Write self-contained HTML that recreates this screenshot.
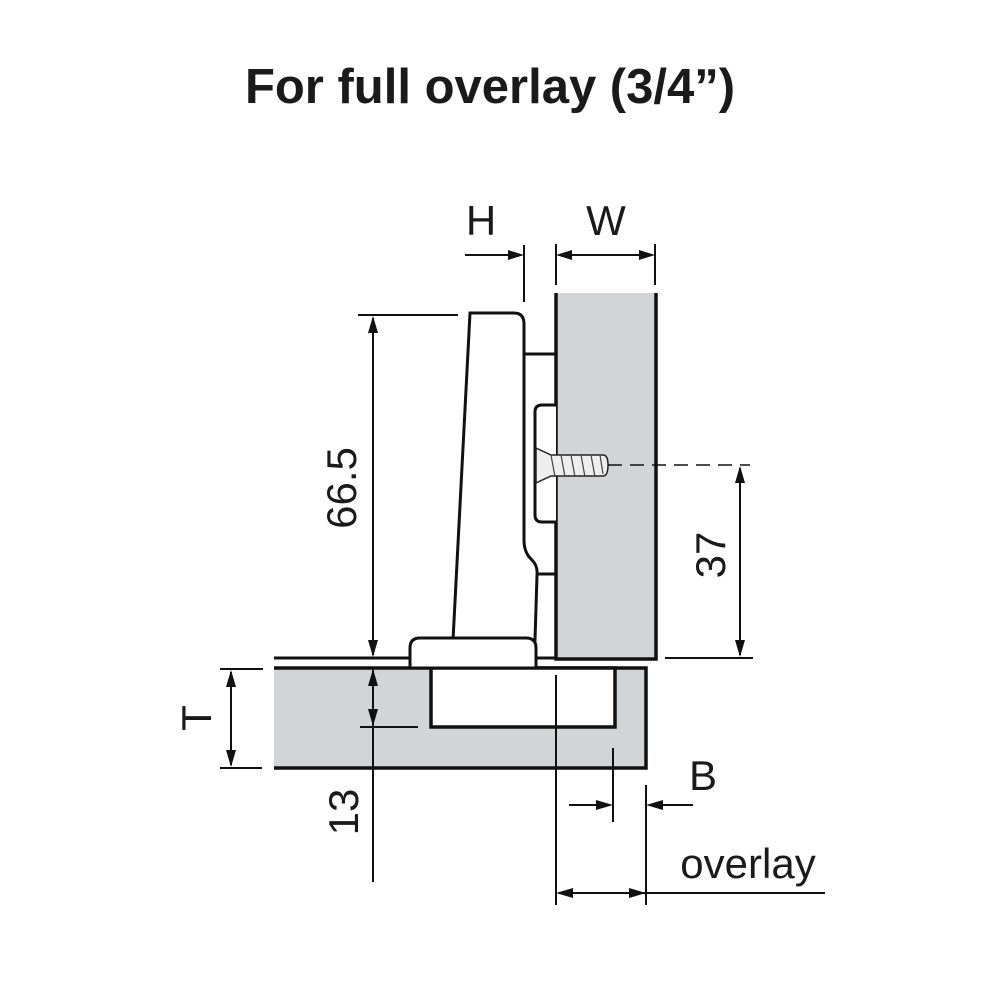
<!DOCTYPE html>
<html><head><meta charset="utf-8"><style>
html,body{margin:0;padding:0;background:#fff;}
svg{display:block;}
text{font-family:"Liberation Sans",Arial,sans-serif;fill:#1a1a1a;}
</style></head><body>
<svg width="1000" height="1000" viewBox="0 0 1000 1000" xmlns="http://www.w3.org/2000/svg">
<rect width="1000" height="1000" fill="#fff"/>
<text x="490" y="103" font-size="49" font-weight="bold" text-anchor="middle">For full overlay (3/4”)</text>

<!-- side panel -->
<rect x="556" y="293" width="100" height="366" fill="#d3d4d6"/>
<path d="M556,293 V659 H656 V293" fill="none" stroke="#111" stroke-width="3.5"/>

<!-- door -->
<rect x="274" y="668" width="372" height="100" fill="#d3d4d6"/>
<path d="M274,668 H646 V768 H274" fill="none" stroke="#111" stroke-width="3.5"/>
<rect x="431" y="668" width="184" height="59" fill="#fff" stroke="#111" stroke-width="3.5"/>
<line x1="274" y1="658" x2="412" y2="658" stroke="#111" stroke-width="3"/>
<line x1="536" y1="658" x2="556" y2="658" stroke="#111" stroke-width="3"/>

<!-- hinge arm -->
<path d="M470,313 H514 Q524,313 524,324 V540 Q524,553 532,560 Q538,566 537,575 L535,640 L453,640 Z" fill="#fff" stroke="#111" stroke-width="3"/>
<!-- base plate -->
<path d="M410,668 V648 Q410,638 420,638 H526 Q536,638 536,648 V668" fill="#fff" stroke="#111" stroke-width="3"/>
<line x1="408" y1="668" x2="538" y2="668" stroke="#111" stroke-width="3"/>
<!-- mounting plate -->
<line x1="524" y1="354" x2="556" y2="354" stroke="#111" stroke-width="3"/>
<line x1="538" y1="574" x2="556" y2="574" stroke="#111" stroke-width="3"/>
<path d="M556,405 H542 Q535,405 535,412 V515 Q535,522 542,522 H556" fill="#fff" stroke="#111" stroke-width="3"/>
<!-- screw -->
<path d="M536,448 L551,455 H603 Q608,455 608,465 Q608,476 603,476 H551 L536,483 Z" fill="#eee" stroke="#222" stroke-width="1.5"/>
<g stroke="#444" stroke-width="1.2">
<line x1="551" y1="455" x2="555" y2="477"/><line x1="561" y1="455" x2="565" y2="477"/><line x1="571" y1="455" x2="575" y2="477"/><line x1="581" y1="455" x2="585" y2="477"/><line x1="591" y1="455" x2="595" y2="477"/><line x1="600" y1="455" x2="603" y2="474"/>
</g>
<line x1="608" y1="465" x2="750" y2="465" stroke="#111" stroke-width="1.5" stroke-dasharray="14,8"/>

<g stroke="#111" stroke-width="2" fill="none">
<line x1="465" y1="255" x2="520" y2="255"/>
<line x1="524" y1="245" x2="524" y2="302"/>
<line x1="556" y1="244" x2="556" y2="285"/>
<line x1="655" y1="244" x2="655" y2="285"/>
<line x1="560" y1="255" x2="651" y2="255"/>
<line x1="358" y1="315" x2="458" y2="315"/>
<line x1="373" y1="318" x2="373" y2="655"/>
<line x1="665" y1="658" x2="753" y2="658"/>
<line x1="740" y1="468" x2="740" y2="655"/>
<line x1="220" y1="669" x2="263" y2="669"/>
<line x1="220" y1="768" x2="262" y2="768"/>
<line x1="231" y1="672" x2="231" y2="765"/>
<line x1="373" y1="670" x2="373" y2="882"/>
<line x1="360" y1="727" x2="418" y2="727"/>
<line x1="613" y1="748" x2="613" y2="822"/>
<line x1="569" y1="805" x2="608" y2="805"/>
<line x1="646" y1="785" x2="646" y2="905"/>
<line x1="650" y1="805" x2="693" y2="805"/>
<line x1="556" y1="675" x2="556" y2="905"/>
<line x1="560" y1="893" x2="825" y2="893"/>
</g>
<g fill="#111">
<polygon points="524,255 508,250 508,260"/>
<polygon points="556,255 572,250 572,260"/>
<polygon points="655,255 639,250 639,260"/>
<polygon points="373,316 368,333 378,333"/>
<polygon points="373,657 368,640 378,640"/>
<polygon points="740,466 735,483 745,483"/>
<polygon points="740,657 735,640 745,640"/>
<polygon points="231,670 226,687 236,687"/>
<polygon points="231,767 226,750 236,750"/>
<polygon points="373,669 368,686 378,686"/>
<polygon points="373,726 368,709 378,709"/>
<polygon points="613,805 596,800 596,810"/>
<polygon points="646,805 663,800 663,810"/>
<polygon points="556,893 573,888 573,898"/>
<polygon points="646,893 629,888 629,898"/>
</g>

<text x="481" y="235" font-size="42" text-anchor="middle">H</text>
<text x="606" y="235" font-size="42" text-anchor="middle">W</text>
<text x="703" y="790" font-size="42" text-anchor="middle">B</text>
<text x="748" y="878" font-size="42" text-anchor="middle">overlay</text>
<text transform="translate(356,488) rotate(-90)" font-size="42" text-anchor="middle">66.5</text>
<text transform="translate(725,555) rotate(-90)" font-size="42" text-anchor="middle">37</text>
<text transform="translate(211,718) rotate(-90)" font-size="42" text-anchor="middle">T</text>
<text transform="translate(358,812) rotate(-90)" font-size="42" text-anchor="middle">13</text>
</svg>
</body></html>
